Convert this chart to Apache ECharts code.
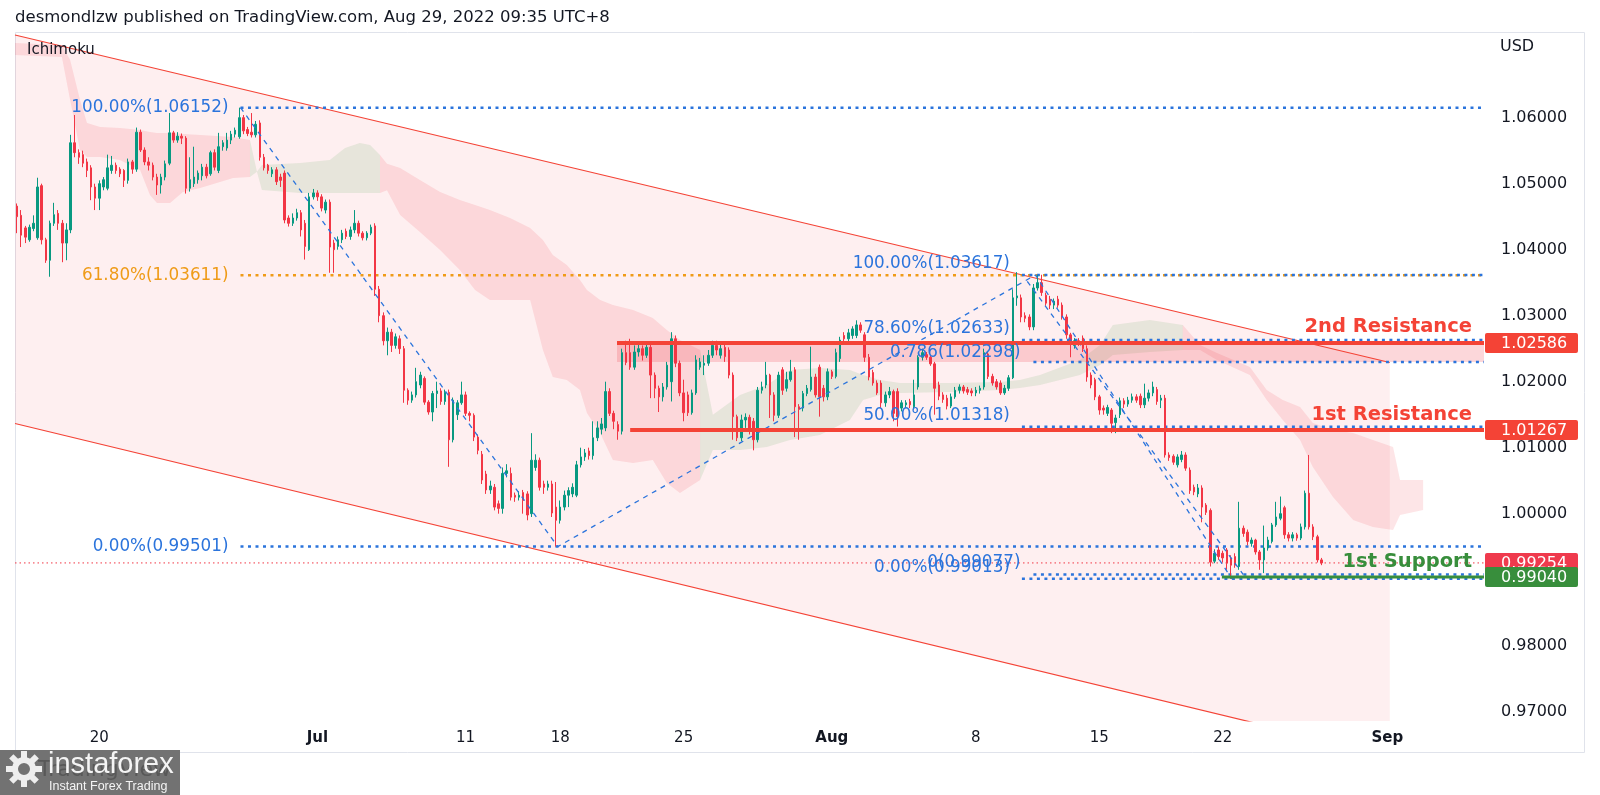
<!DOCTYPE html>
<html><head><meta charset="utf-8">
<script src="https://cdn.jsdelivr.net/npm/echarts@6/dist/echarts.min.js"></script>
<style>html,body{margin:0;padding:0;background:#fff}#c{width:1600px;height:795px}</style>
</head><body><div id="c"></div>
<script>
// ---------- DATA (EURUSD 4h, [open, close, low, high]) ----------
const candlesA = [
[1.0466,1.0450,1.0425,1.0470],[1.0452,1.0422,1.0404,1.0460],[1.0433,1.0419,1.0410,1.0436],[1.0415,1.0434,1.0412,1.0438],
[1.0432,1.0440,1.0428,1.0452],[1.0418,1.0495,1.0415,1.0509],[1.0497,1.0415,1.0408,1.0500],[1.0415,1.0384,1.0380,1.0418],
[1.0384,1.0440,1.0359,1.0444],[1.0440,1.0453,1.0436,1.0471],[1.0455,1.0440,1.0430,1.0460],[1.0440,1.0410,1.0381,1.0445],
[1.0410,1.0430,1.0384,1.0440],[1.0430,1.0562,1.0425,1.0574],[1.0562,1.0547,1.0540,1.0604],[1.0547,1.0540,1.0530,1.0552],
[1.0544,1.0531,1.0525,1.0550],[1.0533,1.0520,1.0510,1.0538],[1.0524,1.0495,1.0475,1.0528],[1.0495,1.0478,1.0460,1.0500],
[1.0478,1.0500,1.0460,1.0505],[1.0495,1.0506,1.0490,1.0510],[1.0493,1.0524,1.0490,1.0544],[1.0520,1.0528,1.0515,1.0542],
[1.0528,1.0520,1.0515,1.0532],[1.0522,1.0515,1.0510,1.0525],[1.0520,1.0505,1.0495,1.0522],[1.0505,1.0533,1.0500,1.0538],
[1.0533,1.0522,1.0515,1.0536],[1.0522,1.0578,1.0518,1.0585],[1.0578,1.0551,1.0548,1.0582],[1.0551,1.0533,1.0528,1.0555],
[1.0533,1.0528,1.0520,1.0540],[1.0528,1.0510,1.0505,1.0532],[1.0510,1.0498,1.0483,1.0515],[1.0498,1.0510,1.0485,1.0515],
[1.0510,1.0530,1.0505,1.0535],[1.0531,1.0577,1.0528,1.0607],[1.0577,1.0566,1.0562,1.0580],[1.0566,1.0572,1.0562,1.0578],
[1.0572,1.0569,1.0560,1.0576],[1.0569,1.0493,1.0485,1.0572]
];
const candlesB = [
[1.0493,1.0506,1.0488,1.0540],[1.0500,1.0510,1.0495,1.0556],[1.0506,1.0516,1.0500,1.0520],[1.0512,1.0525,1.0505,1.0530],
[1.0525,1.0512,1.0508,1.0530],[1.0515,1.0547,1.0512,1.0550],[1.0547,1.0525,1.0520,1.0552],[1.0520,1.0556,1.0516,1.0577],
[1.0556,1.0562,1.0550,1.0566],[1.0554,1.0566,1.0550,1.0577],[1.0566,1.0575,1.0560,1.0580],[1.0575,1.0581,1.0570,1.0585],
[1.0571,1.0600,1.0568,1.06152],[1.0600,1.0580,1.0575,1.0604],[1.0582,1.0576,1.0572,1.0586],[1.0578,1.0574,1.0570,1.0607],
[1.0574,1.0590,1.0570,1.0595],[1.0592,1.0540,1.0535,1.0596],[1.0540,1.0524,1.0520,1.0545],[1.0528,1.0520,1.0515,1.0530],
[1.0515,1.0521,1.0510,1.0525],[1.0521,1.0503,1.0498,1.0525],[1.0510,1.0505,1.0495,1.0515],[1.0516,1.0445,1.0440,1.0520],
[1.0448,1.0440,1.0435,1.0452],[1.0440,1.0448,1.0436,1.0455],[1.0448,1.0456,1.0444,1.0462],[1.0456,1.0430,1.0420,1.0460],
[1.0440,1.0405,1.0385,1.0445],[1.0400,1.0480,1.0398,1.0486],[1.0480,1.0486,1.0476,1.0492],[1.0486,1.0480,1.0474,1.0490],
[1.0480,1.0463,1.0458,1.0484],[1.0460,1.0472,1.0455,1.0476],[1.0472,1.0404,1.0365,1.0476],[1.0410,1.0400,1.0365,1.0415],
[1.0405,1.0415,1.0400,1.0420],[1.0415,1.0425,1.0410,1.0430],[1.0428,1.0420,1.0416,1.0432],[1.0420,1.0430,1.0415,1.0435],
[1.0430,1.0440,1.0425,1.0460],[1.0440,1.0425,1.0420,1.0444],[1.0425,1.0418,1.0414,1.0428],[1.0418,1.0425,1.0414,1.0428],
[1.0425,1.0434,1.0422,1.0438],[1.0436,1.0340,1.0330,1.0440]
];
const candlesC = [
[1.0340,1.0300,1.0290,1.0345],[1.0300,1.0262,1.0255,1.0305],[1.0262,1.0275,1.0240,1.0282],[1.0275,1.0255,1.0245,1.0280],
[1.0255,1.0268,1.0250,1.0273],[1.0265,1.0250,1.0242,1.0270],[1.0250,1.0187,1.0168,1.0254],[1.0187,1.0172,1.0165,1.0190],
[1.0172,1.0180,1.0168,1.0185],[1.0180,1.0200,1.0176,1.0221],[1.0195,1.0210,1.0190,1.0215],[1.0205,1.0169,1.0165,1.0208],
[1.0169,1.0154,1.0150,1.0172],[1.0154,1.0182,1.0140,1.0186],[1.0182,1.0186,1.0160,1.0200],[1.0186,1.0170,1.0165,1.0190],
[1.0170,1.0184,1.0165,1.0188],[1.0184,1.0112,1.0071,1.0188],[1.0112,1.0172,1.0108,1.0176],[1.0150,1.0168,1.0142,1.0172],
[1.0168,1.0180,1.0165,1.0200],[1.0180,1.0152,1.0148,1.0185],[1.0152,1.0149,1.0140,1.0155],[1.0149,1.0116,1.0110,1.0152],
[1.0116,1.0096,1.0090,1.0120],[1.0090,1.0051,1.0045,1.0095],[1.0060,1.0036,1.0030,1.0065],[1.0036,1.0042,1.0030,1.0050],
[1.0040,1.0010,1.0005,1.0045],[1.0015,1.0008,1.0000,1.0020],[1.0008,1.0061,1.0000,1.0070],[1.0061,1.0065,1.0055,1.0075],
[1.0061,1.0025,1.0020,1.0070],[1.0028,1.0025,1.0018,1.0032],[1.0025,1.0028,1.0020,1.0034],[1.0032,1.0020,1.0000,1.0036],
[1.0030,0.9998,0.9990,1.0034],[1.0000,1.0081,0.9995,1.0122],[1.0070,1.0081,1.0065,1.0090],[1.0081,1.0040,1.0035,1.0085],
[1.0045,1.0040,1.0030,1.0050],[1.0040,1.0045,1.0035,1.0050],[1.0045,1.0001,0.9995,1.0050],[1.0010,0.9990,0.99501,1.0048],
[0.9990,1.0010,0.9985,1.0020],[1.0010,1.0028,1.0005,1.0035],[1.0028,1.0035,1.0010,1.0040],[1.0030,1.0040,1.0025,1.0046],
[1.0028,1.0074,1.0025,1.0080],[1.0074,1.0086,1.0070,1.0100],[1.0086,1.0092,1.0080,1.0098],[1.0095,1.0088,1.0082,1.0100],
[1.0088,1.0115,1.0082,1.0140],[1.0115,1.0130,1.0110,1.0140],[1.0128,1.0136,1.0120,1.0145],[1.0130,1.0185,1.0125,1.0200],
[1.0185,1.0152,1.0148,1.0190],[1.0152,1.0140,1.0128,1.0156],[1.0135,1.0125,1.0112,1.0140],[1.0125,1.0244,1.0120,1.0250],
[1.0244,1.0229,1.0225,1.0262]
];
const candlesD = [
[1.0244,1.0222,1.0218,1.0265],[1.0222,1.0245,1.0218,1.0255],[1.0245,1.0250,1.0238,1.0258],[1.0250,1.0240,1.0232,1.0255],
[1.0240,1.0252,1.0236,1.0258],[1.0252,1.0210,1.0175,1.0256],[1.0210,1.0190,1.0175,1.0214],[1.0190,1.0177,1.0154,1.0194],
[1.0177,1.0192,1.0170,1.0198],[1.0192,1.0225,1.0188,1.0230],[1.0200,1.0265,1.0170,1.0275],[1.0265,1.0228,1.0222,1.0270],
[1.0228,1.0183,1.0178,1.0232],[1.0183,1.0153,1.0140,1.0203],[1.0180,1.0153,1.0148,1.0185],[1.0153,1.0183,1.0150,1.0188],
[1.0183,1.0233,1.0180,1.0240],[1.0222,1.0230,1.0218,1.0236],[1.0225,1.0228,1.0210,1.0240],[1.0228,1.0240,1.0224,1.0248],
[1.0240,1.0255,1.0236,1.0262],[1.0255,1.0248,1.0240,1.0262],[1.0240,1.0250,1.0235,1.0256],[1.0252,1.0238,1.0230,1.0258],
[1.0248,1.0210,1.0205,1.0252],[1.0210,1.0147,1.0112,1.0214],[1.0147,1.0115,1.0110,1.0150],[1.0115,1.0142,1.0110,1.0150],
[1.0142,1.0146,1.0130,1.0152],[1.0146,1.0125,1.0120,1.0150],[1.0140,1.0112,1.0096,1.0145],[1.0112,1.0187,1.0108,1.0192],
[1.0187,1.0192,1.0182,1.0200],[1.0195,1.0210,1.0190,1.0230],[1.0210,1.0180,1.0145,1.0212],[1.0180,1.0149,1.0140,1.0184],
[1.0149,1.0210,1.0145,1.0215]
];
const candlesE = [
[1.0218,1.0187,1.0180,1.0222],[1.0190,1.0203,1.0185,1.0215],[1.0203,1.0215,1.0200,1.0233],[1.0218,1.0162,1.0116,1.0222],
[1.0162,1.0158,1.0112,1.0166],[1.0160,1.0182,1.0155,1.0186],[1.0182,1.0190,1.0178,1.0195],[1.0188,1.0207,1.0185,1.0253],
[1.0207,1.0180,1.0176,1.0212],[1.0222,1.0177,1.0147,1.0226],[1.0190,1.0177,1.0170,1.0195],[1.0177,1.0215,1.0172,1.0220],
[1.0215,1.0208,1.0204,1.0218],[1.0208,1.0244,1.0205,1.0250],[1.0235,1.0263,1.0230,1.0268],[1.0270,1.0265,1.0260,1.0275],
[1.0265,1.0274,1.0260,1.0280],[1.0270,1.0280,1.0265,1.0284],[1.0270,1.0286,1.0266,1.0293],[1.0286,1.0278,1.0274,1.0290],
[1.0271,1.0237,1.0230,1.0275],[1.0237,1.0207,1.0202,1.0242],[1.0214,1.0198,1.0194,1.0218],[1.0198,1.0183,1.0180,1.0202],
[1.0198,1.0168,1.0160,1.0202],[1.0168,1.0180,1.0162,1.0185],[1.0180,1.0185,1.0175,1.0192],[1.0185,1.0152,1.0140,1.0188],
[1.0185,1.0147,1.0132,1.0190],[1.0160,1.0168,1.0155,1.0172],[1.0165,1.0168,1.0160,1.0172],[1.0170,1.0165,1.0160,1.0174],
[1.0162,1.0180,1.0158,1.0203],[1.0192,1.0237,1.0188,1.0240],[1.0237,1.0244,1.0232,1.0250],[1.0241,1.0237,1.0233,1.0245],
[1.0237,1.0227,1.0224,1.0240],[1.0227,1.0190,1.0150,1.0230],[1.0195,1.0178,1.0172,1.0200],[1.0180,1.0173,1.0168,1.0184],
[1.0175,1.0163,1.0158,1.0180],[1.0163,1.0177,1.0160,1.0182],[1.0177,1.0187,1.0174,1.0192],[1.0187,1.0192,1.0182,1.0196],
[1.0192,1.0186,1.0182,1.0195],[1.0188,1.0184,1.0180,1.0192],[1.0186,1.0183,1.0178,1.0190],[1.0183,1.0187,1.0178,1.0192],
[1.0187,1.0190,1.0182,1.0194],[1.0192,1.0244,1.0188,1.0250],[1.0242,1.0208,1.0204,1.0246],[1.0208,1.0198,1.0194,1.0212],
[1.0200,1.0192,1.0188,1.0204],[1.0198,1.0183,1.0180,1.0202],[1.0183,1.0190,1.0180,1.0195],[1.0190,1.0206,1.0186,1.0210],
[1.0206,1.0327,1.0204,1.0340],[1.0327,1.0330,1.0315,1.0366],[1.0327,1.0298,1.0290,1.0332],[1.0300,1.0296,1.0290,1.0305],
[1.0298,1.0283,1.0278,1.0302],[1.0283,1.0342,1.0278,1.0348],[1.0342,1.0350,1.0338,1.03617],[1.0350,1.0335,1.0330,1.0362],
[1.0331,1.0319,1.0315,1.0335],[1.0325,1.0316,1.0310,1.0330],[1.0316,1.0322,1.0310,1.0326],[1.0325,1.0316,1.0312,1.0330],
[1.0316,1.0298,1.0294,1.0320],[1.0298,1.0271,1.0265,1.0302],[1.0271,1.0259,1.0237,1.0274],[1.0255,1.0262,1.0250,1.0266],
[1.0262,1.0259,1.0254,1.0266],[1.0266,1.0250,1.0245,1.0270],[1.0250,1.0207,1.0200,1.0255],[1.0210,1.0195,1.0190,1.0214],
[1.0203,1.0177,1.0172,1.0206],[1.0177,1.0157,1.0150,1.0180],[1.0160,1.0157,1.0150,1.0164],[1.0152,1.0161,1.0148,1.0165],
[1.0157,1.0137,1.0122,1.0160],[1.0138,1.0145,1.0122,1.0150],[1.0150,1.0171,1.0145,1.0176],[1.0171,1.0166,1.0160,1.0175],
[1.0166,1.0172,1.0162,1.0177],[1.0172,1.0177,1.0168,1.0182],[1.0177,1.0172,1.0168,1.0181],[1.0178,1.0165,1.0160,1.0182],
[1.0165,1.0175,1.0160,1.0197],[1.0175,1.0183,1.0170,1.0188],[1.0183,1.0192,1.0178,1.0200],[1.0188,1.0170,1.0165,1.0192],
[1.0172,1.0175,1.0160,1.0180]
];
const candlesF = [
[1.0175,1.0089,1.0085,1.0180],[1.0089,1.0085,1.0080,1.0093],[1.0087,1.0078,1.0074,1.0090],[1.0074,1.0086,1.0070,1.0090],
[1.0082,1.0089,1.0078,1.0095],[1.0089,1.0069,1.0065,1.0093],[1.0066,1.0035,1.0030,1.0070],[1.0040,1.0033,1.0028,1.0044],
[1.0030,1.0039,1.0025,1.0045],[1.0039,1.0010,0.9987,1.0043],[1.0013,1.0002,0.9998,1.0016],[1.0005,0.99266,0.9920,1.0008],
[0.9928,0.9940,0.9925,0.9946],[0.9945,0.9935,0.9930,0.9950],[0.9940,0.9933,0.9926,0.9944],[0.9945,0.9925,0.9915,0.9948],
[0.9933,0.9922,0.99013,0.9937],[0.9935,0.9922,0.9918,0.9940],[0.9920,0.9978,0.9915,1.0018],[0.9978,0.9970,0.9965,0.9982],
[0.9972,0.9958,0.9952,0.9976],[0.9955,0.9960,0.9950,0.9964],[0.9960,0.9942,0.9938,0.9962],[0.9942,0.9930,0.9915,0.9945],
[0.9930,0.9948,0.9910,0.9982],[0.9948,0.9960,0.9944,0.9965],[0.9958,0.9983,0.9955,0.9986],[0.9983,0.9995,0.9980,1.0018],
[0.9993,1.0000,0.9990,1.0026],[1.0009,0.9968,0.9962,1.0012],[0.9968,0.9963,0.9958,0.9972],[0.9963,0.9968,0.9958,0.9972],
[0.9968,0.9963,0.9959,0.9971],[0.9963,0.9980,0.9960,0.9985],[0.9980,1.0031,0.9976,1.0035],[1.0031,0.9980,0.9976,1.0089],
[0.9980,0.9965,0.9960,0.9984],[0.9965,0.9930,0.9926,0.9968],[0.9930,0.99254,0.9922,0.9933]
];

const TOTAL_BARS = 357;               // candles + future space (bar slots)
const xLabelIdx  = [20, 73, 109, 132, 162, 198, 233, 263, 293, 333];
const xLabelText = ['20', 'Jul', '11', '18', '25', 'Aug', '8', '15', '22', 'Sep'];
const yTicks = [0.97, 0.98, 1.00, 1.01, 1.02, 1.03, 1.04, 1.05, 1.06];
const yMin = 0.96859, yMax = 1.07298;

// Ichimoku cloud (bar index, upper span, lower span, bullish flag)
const cloudIdx  = [-0.5,10.9,12.9,15.3,17.0,20.2,25.0,29.9,32.3,34.0,37.2,40.3,44.5,52.5,56.6,
                   58.3,59.5,68.8,76.0,79.7,83.3,85.8,88.2,
                   89.9,93.1,97.9,102.8,107.6,111.3,114.9,119.8,124.7,127.8,130.2,133.6,136.8,138.5,141.7,144.8,149.7,154.5,157.9,161.1,166.0,
                   169.1,175.7,182.2,187.8,195.1,202.4,205.6,209.7,214.6,226.7,238.9,243.7,248.6,258.3,263.2,266.3,275.3,283.3,
                   287.5,291.6,299.6,303.7,307.6,311.8,314.9,319.8,324.7,329.5,334.4,336.1,341.7];
const cloudHi   = [1.07132,1.07102,1.06874,1.06268,1.05920,1.05859,1.05844,1.05814,1.05783,1.05768,1.05768,1.05753,1.05738,1.05708,1.05662,
                   1.05180,1.05283,1.05314,1.05359,1.05541,1.05617,1.05586,1.05435,
                   1.05300,1.05238,1.05056,1.04874,1.04753,1.04677,1.04602,1.04480,1.04329,1.04147,1.03920,1.03768,1.03541,1.03389,1.03238,1.03162,1.03086,1.02965,1.02783,1.02632,1.02480,
                   1.01500,1.01798,1.01950,1.02177,1.02208,1.02177,1.02102,1.02026,1.01980,1.01980,1.01995,1.02026,1.02102,1.02329,1.02556,1.02859,1.02935,1.02859,
                   1.02556,1.02435,1.02223,1.01874,1.01723,1.01617,1.01374,1.01268,1.01223,1.01117,1.01011,1.00511,1.00511];
const cloudLo   = [1.06950,1.06920,1.06268,1.05511,1.05405,1.05405,1.05359,1.05208,1.04829,1.04708,1.04708,1.04874,1.04935,1.05086,1.05102,
                   1.05180,1.04905,1.04859,1.04859,1.04859,1.04859,1.04859,1.04859,
                   1.04900,1.04526,1.04268,1.03995,1.03692,1.03389,1.03238,1.03238,1.03238,1.02480,1.02071,1.02026,1.01874,1.01526,1.01223,1.00814,1.00768,1.00814,1.00465,1.00314,1.00511,
                   1.00965,1.00965,1.01011,1.01117,1.01192,1.01420,1.01723,1.01798,1.01829,1.01844,1.01874,1.01905,1.01950,1.02102,1.02253,1.02405,1.02450,1.02480,
                   1.02480,1.02329,1.02102,1.01723,1.01420,1.01117,1.00708,1.00253,0.99905,0.99798,0.99753,0.99980,1.00056];
const cloudBull = [0,0,0,0,0,0,0,0,0,0,0,0,0,0,0,
                   1,1,1,1,1,1,1,1,
                   0,0,0,0,0,0,0,0,0,0,0,0,0,0,0,0,0,0,0,0,0,
                   1,1,1,1,1,1,1,1,1,1,1,1,1,1,1,1,1,1,
                   0,0,0,0,0,0,0,0,0,0,0,0,0];

// drawings
const channelUpper = [[-0.5, 1.07253], [333.6, 1.02291]];
const channelLower = [[-0.5, 1.01367], [333.6, 0.96335]];
const fib1Start = 54.3;
const fib1Prices = [1.06152, 1.03611, 0.99501];
const fib1Texts  = ['100.00%(1.06152)', '61.80%(1.03611)', '0.00%(0.99501)'];
const fib2Start = 244.2;
const fib2Prices = [1.03617, 1.02633, 1.01318, 0.99013];
const fib2Texts  = ['100.00%(1.03617)', '78.60%(1.02633)', '50.00%(1.01318)', '0.00%(0.99013)'];
const fib3Start = 247;
const fib3Prices = [1.02298, 0.99077];
const fib3Texts  = ['0.786(1.02298)', '0(0.99077)'];
const zigzag1 = [[54.3, 1.06152], [131.4, 0.99501], [247.5, 1.03617], [295.2, 0.99013]];
const zigzag2 = [[245.5, 1.0352], [298.0, 0.99077]];
const res2 = 1.02586, res2Zone = 1.02298, res2Start = 145.8;
const res1 = 1.01267, res1Start = 149;
const sup1 = 0.99040, sup1Start = 292.8;
const lastPrice = 0.99254;

// ---------- CHART ----------
const candles = [].concat(candlesA, candlesB, candlesC, candlesD, candlesE, candlesF);
const cats = Array.from({length: TOTAL_BARS}, (_, i) => 'c' + i);
const labelMap = {};
xLabelIdx.forEach((k, j) => { labelMap[k] = xLabelText[j]; });
const RIGHT = TOTAL_BARS - 0.5;
const FONT = '"DejaVu Sans", sans-serif';
const BLUE = '#2b74dc', ORANGE = '#ef9b17', RED = '#f44336', GREEN = '#388e3c', TXT = '#131722';
const DOTS = [3, 4.5];
const FIBFONT = '16.8px ' + FONT, LBLFONT = 'bold 19.5px ' + FONT;

function lineSeries(pts, color, width, type, z) {
  return {type: 'line', xAxisIndex: 1, yAxisIndex: 0, data: pts, symbol: 'none', silent: true,
    lineStyle: {color: color, width: width, type: type, cap: 'butt'}, z: z};
}

// cloud runs
const runs = [];
let cur = null;
for (let k = 0; k < cloudIdx.length; k++) {
  if (!cur || cloudBull[k] !== cur.bull) {
    cur = {bull: cloudBull[k], top: [], bot: []};
    if (k > 0) { cur.top.push([cloudIdx[k-1], cloudHi[k-1]]); cur.bot.push([cloudIdx[k-1], cloudLo[k-1]]); }
    runs.push(cur);
  }
  cur.top.push([cloudIdx[k], cloudHi[k]]);
  cur.bot.push([cloudIdx[k], cloudLo[k]]);
}

// annotations
const annots = [];
fib1Prices.forEach((p, i) => annots.push({idx: fib1Start, price: p, text: fib1Texts[i], color: i === 1 ? ORANGE : BLUE, dx: -12, dy: 0, font: FIBFONT}));
fib2Prices.forEach((p, i) => annots.push({idx: fib2Start, price: p, text: fib2Texts[i], color: BLUE, dx: -12, dy: -11, font: FIBFONT}));
fib3Prices.forEach((p, i) => annots.push({idx: fib3Start, price: p, text: fib3Texts[i], color: BLUE, dx: -13, dy: i === 0 ? -9 : -12, font: FIBFONT}));
annots.push({idx: RIGHT, price: res2, text: '2nd Resistance', color: RED, dx: -12, dy: -16, font: LBLFONT});
annots.push({idx: RIGHT, price: res1, text: '1st Resistance', color: RED, dx: -12, dy: -15, font: LBLFONT});
annots.push({idx: RIGHT, price: sup1, text: '1st Support', color: GREEN, dx: -12, dy: -15, font: LBLFONT});

const tags = [
  {price: res2, color: '#f44336'}, {price: res1, color: '#f44336'},
  {price: lastPrice, color: '#ef3a4d'}, {price: sup1, color: '#388e3c'}
];

const series = [];
// channel fill
series.push({type: 'custom', xAxisIndex: 1, yAxisIndex: 0, clip: true, silent: true, z: 1,
  data: [[0, 1]],
  renderItem: function (params, api) {
    const pts = [channelUpper[0], channelUpper[1], channelLower[1], channelLower[0]].map(p => api.coord(p));
    return {type: 'polygon', shape: {points: pts}, style: {fill: 'rgba(242,54,69,0.08)'}};
  }});
// cloud
series.push({type: 'custom', xAxisIndex: 1, yAxisIndex: 0, clip: true, silent: true, z: 2,
  data: runs.map((r, i) => [i, 1]),
  renderItem: function (params, api) {
    const r = runs[params.dataIndex];
    const pts = r.top.concat(r.bot.slice().reverse()).map(p => api.coord(p));
    return {type: 'polygon', shape: {points: pts},
      style: {fill: r.bull ? 'rgba(76,160,80,0.13)' : 'rgba(242,54,69,0.13)'}};
  }});
// resistance zone
series.push({type: 'custom', xAxisIndex: 1, yAxisIndex: 0, clip: true, silent: true, z: 3,
  data: [[0, 1]],
  renderItem: function (params, api) {
    const a = api.coord([res2Start, res2]), b = api.coord([RIGHT, res2Zone]);
    return {type: 'rect', shape: {x: a[0], y: a[1], width: b[0] - a[0], height: b[1] - a[1]},
      style: {fill: 'rgba(242,54,69,0.2)'}};
  }});
// channel lines
series.push(lineSeries(channelUpper, RED, 1.2, 'solid', 4));
series.push(lineSeries(channelLower, RED, 1.2, 'solid', 4));
// fib lines
fib1Prices.forEach((p, i) => series.push(lineSeries([[fib1Start, p], [RIGHT, p]], i === 1 ? ORANGE : BLUE, 2.5, DOTS, 4)));
fib2Prices.forEach(p => series.push(lineSeries([[fib2Start, p], [RIGHT, p]], BLUE, 2.5, DOTS, 4)));
fib3Prices.forEach(p => series.push(lineSeries([[fib3Start, p], [RIGHT, p]], BLUE, 2.5, DOTS, 4)));
// last price dotted
series.push(lineSeries([[-0.5, lastPrice], [RIGHT, lastPrice]], '#f23645', 1, [1.5, 3], 4));
// candles
series.push({type: 'candlestick', xAxisIndex: 0, yAxisIndex: 0, data: candles, barWidth: 2, z: 5, silent: true,
  itemStyle: {color: '#089981', color0: '#f23645', borderColor: '#089981', borderColor0: '#f23645', borderWidth: 1}});
// zigzags
series.push(lineSeries(zigzag1, BLUE, 1.3, [5, 5], 6));
series.push(lineSeries(zigzag2, BLUE, 1.3, [5, 5], 6));
// resistance / support lines
series.push(lineSeries([[res2Start, res2], [RIGHT, res2]], RED, 4, 'solid', 6));
series.push(lineSeries([[res1Start, res1], [RIGHT, res1]], RED, 4, 'solid', 6));
series.push(lineSeries([[sup1Start, sup1], [RIGHT, sup1]], GREEN, 3, 'solid', 6));
// texts
series.push({type: 'custom', xAxisIndex: 1, yAxisIndex: 0, clip: false, silent: true, z: 10,
  data: annots.map((a, i) => [i, 1]),
  renderItem: function (params, api) {
    const a = annots[params.dataIndex];
    const p = api.coord([a.idx, a.price]);
    return {type: 'text', x: p[0] + a.dx, y: p[1] + a.dy,
      style: {text: a.text, fill: a.color, font: a.font, align: 'right', verticalAlign: 'middle'}};
  }});
// price tags
series.push({type: 'custom', xAxisIndex: 1, yAxisIndex: 0, clip: false, silent: true, z: 11,
  data: tags.map((t, i) => [i, 1]),
  renderItem: function (params, api) {
    const t = tags[params.dataIndex];
    const p = api.coord([RIGHT, t.price]);
    return {type: 'group', children: [
      {type: 'rect', shape: {x: p[0] + 1, y: p[1] - 10, width: 93, height: 20, r: 2}, style: {fill: t.color}},
      {type: 'text', x: p[0] + 17, y: p[1] + 0.5,
        style: {text: t.price.toFixed(5), fill: '#ffffff', font: '16px ' + FONT, align: 'left', verticalAlign: 'middle'}}
    ]};
  }});

const gear = [];
for (let k = 0; k < 8; k++) {
  gear.push({type: 'rect', shape: {x: -3, y: -18, width: 6, height: 8}, x: 24, y: 769, rotation: k * Math.PI / 4,
    style: {fill: '#eeeeee'}});
}

const option = {
  animation: false,
  backgroundColor: '#ffffff',
  grid: {left: 15, right: 116, top: 32, bottom: 74},
  xAxis: [
    {type: 'category', data: cats, boundaryGap: true,
      axisLine: {show: false}, axisTick: {show: false}, splitLine: {show: false},
      axisLabel: {
        interval: function (i) { return labelMap[i] !== undefined; },
        formatter: function (v, i) {
          const t = labelMap[i] || '';
          return (t === 'Jul' || t === 'Aug' || t === 'Sep') ? '{b|' + t + '}' : t;
        },
        margin: 10, color: TXT, fontSize: 15, fontFamily: FONT,
        rich: {b: {fontWeight: 'bold', fontSize: 15, fontFamily: FONT, color: TXT}}
      }},
    {type: 'value', min: -0.5, max: RIGHT, show: false}
  ],
  yAxis: [{type: 'value', position: 'right', min: yMin, max: yMax, scale: true,
    axisLine: {show: false}, axisTick: {show: false}, splitLine: {show: false},
    axisLabel: {customValues: yTicks, formatter: function (v) { return v.toFixed(5); },
      margin: 17, color: TXT, fontSize: 16, fontFamily: FONT}}],
  series: series,
  graphic: [
    {type: 'rect', shape: {x: 15.5, y: 32.5, width: 1569, height: 720}, style: {fill: 'none', stroke: '#e0e3eb', lineWidth: 1}, z: 0, silent: true},
    {type: 'text', x: 15, y: 18, style: {text: 'desmondlzw published on TradingView.com, Aug 29, 2022 09:35 UTC+8', font: '16.5px ' + FONT, fill: TXT, verticalAlign: 'middle'}},
    {type: 'text', x: 27, y: 50, style: {text: 'Ichimoku', font: '15px ' + FONT, fill: TXT, verticalAlign: 'middle'}, z: 20},
    {type: 'text', x: 1500, y: 47, style: {text: 'USD', font: '16px ' + FONT, fill: TXT, verticalAlign: 'middle'}},
    {type: 'group', z: 30, children: [
      {type: 'rect', shape: {x: 0, y: 750, width: 180, height: 45}, style: {fill: '#727272'}},
      {type: 'text', x: 38, y: 770, style: {text: 'TradingView', font: '22px ' + FONT, fill: 'rgba(40,40,40,0.35)', verticalAlign: 'middle'}},
      {type: 'ring', shape: {cx: 24, cy: 769, r: 12, r0: 6}, style: {fill: '#eeeeee'}},
      ...gear,
      {type: 'text', x: 48, y: 765, style: {text: 'instaforex', font: '29px "Liberation Sans", sans-serif', fill: '#f4f4f4', verticalAlign: 'middle'}},
      {type: 'text', x: 49, y: 787, style: {text: 'Instant Forex Trading', font: '12.5px "Liberation Sans", sans-serif', fill: '#f4f4f4', verticalAlign: 'middle'}}
    ]}
  ]
};

const chart = echarts.init(document.getElementById('c'), null, {renderer: 'canvas', width: 1600, height: 795});
chart.setOption(option);
</script>
</body></html>
